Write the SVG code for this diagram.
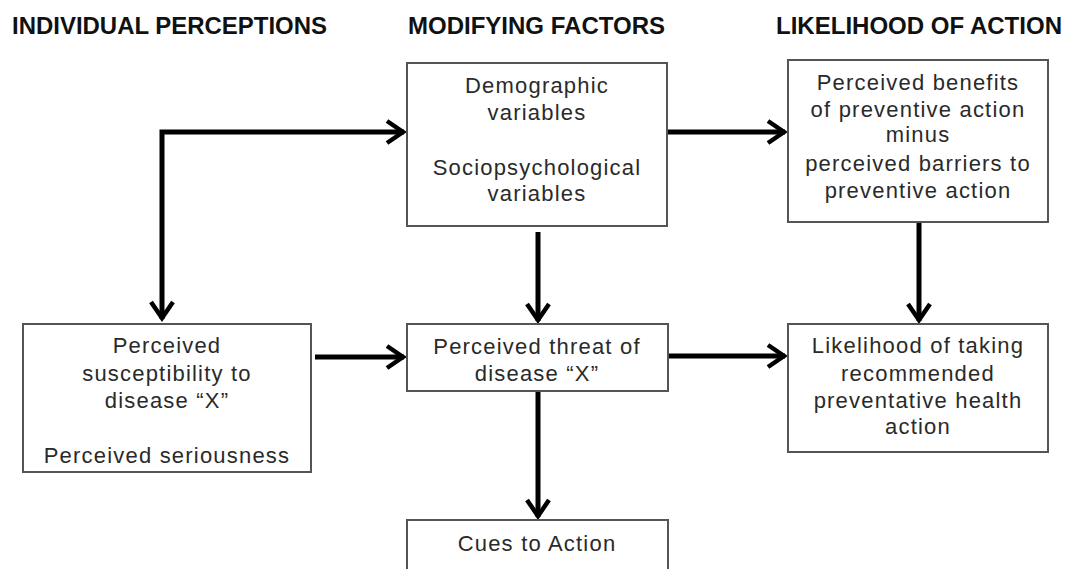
<svg xmlns="http://www.w3.org/2000/svg" width="1065" height="569" viewBox="0 0 1065 569">
<style>
.hdr{font-family:"Liberation Sans Narrow","Liberation Sans",Arial,sans-serif;font-weight:bold;font-size:24px;fill:#111}
.box{fill:#fff;stroke:#555;stroke-width:2}
.t{font-family:"Liberation Sans",Arial,sans-serif;font-size:22px;fill:#2a2a2a;text-anchor:middle;letter-spacing:1.2px}
.c{fill:none;stroke:#000;stroke-width:5}
</style>
<defs>
<marker id="arr" markerUnits="userSpaceOnUse" viewBox="-26 -16 32 32" markerWidth="32" markerHeight="32" refX="-3" refY="0" orient="auto-start-reverse">
<path d="M-20,-11 L-4,0 L-20,11" fill="none" stroke="#000" stroke-width="4.5" stroke-linejoin="miter"/>
</marker>
</defs>
<rect width="1065" height="569" fill="#fff"/>
<g id="headers">
<text class="hdr" x="12" y="34" textLength="315" lengthAdjust="spacingAndGlyphs">INDIVIDUAL PERCEPTIONS</text>
<text class="hdr" x="408" y="34" textLength="257" lengthAdjust="spacingAndGlyphs">MODIFYING FACTORS</text>
<text class="hdr" x="776" y="34" textLength="286" lengthAdjust="spacingAndGlyphs">LIKELIHOOD OF ACTION</text>
</g>
<g id="connectors">
<path class="c" d="M162,319 L162,132 L404,132" marker-start="url(#arr)" marker-end="url(#arr)"/>
<path class="c" d="M668,132 L785,132" marker-end="url(#arr)"/>
<path class="c" d="M538,232 L538,321" marker-end="url(#arr)"/>
<path class="c" d="M919,222 L919,321" marker-end="url(#arr)"/>
<path class="c" d="M315,357 L404,357" marker-end="url(#arr)"/>
<path class="c" d="M668,356 L785,356" marker-end="url(#arr)"/>
<path class="c" d="M538,391 L538,517" marker-end="url(#arr)"/>
</g>
<g id="modifying">
<rect class="box" x="407" y="63" width="260" height="163"/>
<text class="t" x="537" y="93">Demographic</text>
<text class="t" x="537" y="120">variables</text>
<text class="t" x="537" y="175">Sociopsychological</text>
<text class="t" x="537" y="201">variables</text>
</g>
<g id="benefits">
<rect class="box" x="788" y="60" width="260" height="162"/>
<text class="t" x="918" y="90">Perceived benefits</text>
<text class="t" x="918" y="117">of preventive action</text>
<text class="t" x="918" y="142">minus</text>
<text class="t" x="918" y="171">perceived barriers to</text>
<text class="t" x="918" y="198">preventive action</text>
</g>
<g id="susceptibility">
<rect class="box" x="23" y="324" width="288" height="148"/>
<text class="t" x="167" y="353">Perceived</text>
<text class="t" x="167" y="381">susceptibility to</text>
<text class="t" x="167" y="408">disease “X”</text>
<text class="t" x="167" y="463">Perceived seriousness</text>
</g>
<g id="threat">
<rect class="box" x="407" y="324" width="261" height="67"/>
<text class="t" x="537" y="354">Perceived threat of</text>
<text class="t" x="537" y="381">disease “X”</text>
</g>
<g id="likelihood">
<rect class="box" x="788" y="324" width="260" height="128"/>
<text class="t" x="918" y="353">Likelihood of taking</text>
<text class="t" x="918" y="381">recommended</text>
<text class="t" x="918" y="408">preventative health</text>
<text class="t" x="918" y="434">action</text>
</g>
<g id="cues">
<rect class="box" x="407" y="520" width="261" height="60"/>
<text class="t" x="537" y="551">Cues to Action</text>
</g>
</svg>
